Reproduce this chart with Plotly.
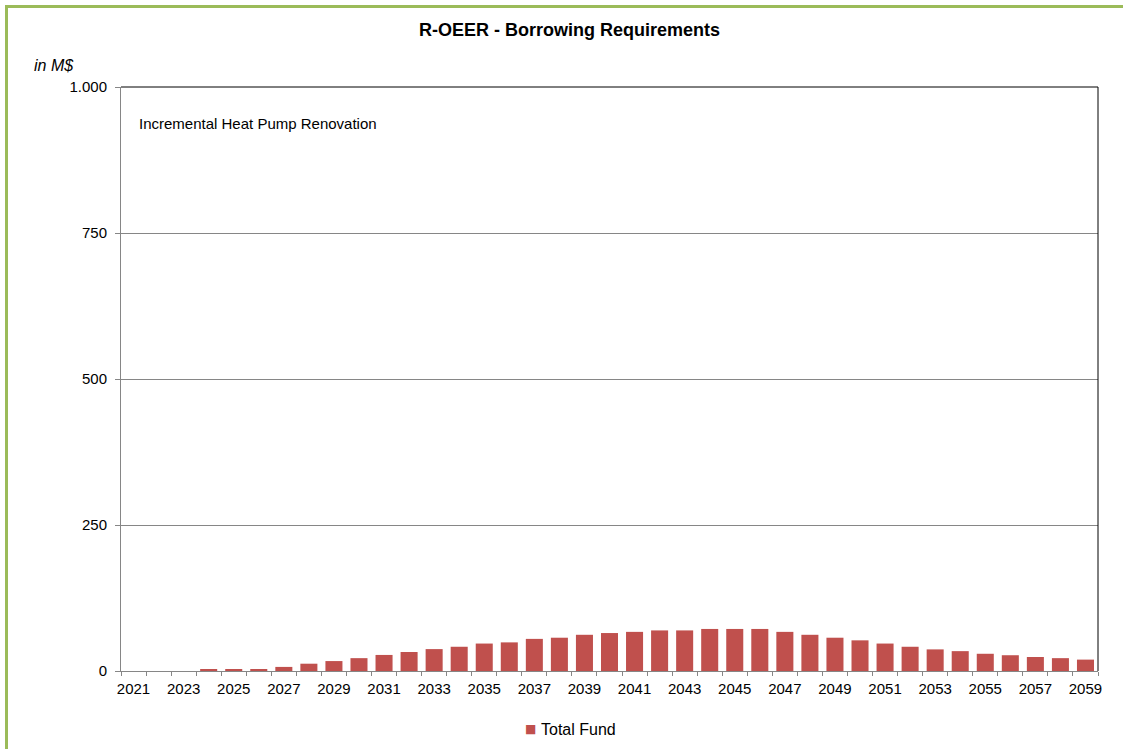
import plotly.graph_objects as go

years = list(range(2021, 2060))
total_fund = [0, 0, 0, 2, 2, 2, 7, 12.5, 17, 22, 27.5, 32.5, 37.5,
              41.5, 47, 49, 55, 57, 62, 65, 67, 69.5, 69.5, 72, 72, 72,
              67, 62, 57, 52.5, 47, 41.5, 37, 34, 29.5, 27, 24, 22, 19.5]
y_ticks = [0, 250, 500, 750, 1000]
y_tick_labels = ["0", "250", "500", "750", "1.000"]
x_tick_years = list(range(2021, 2060, 2))
series_name = "Total Fund"
bar_color = "#C0504D"

FONT = "Liberation Sans, Arial, sans-serif"
W, H = 1123, 749
ml, mr, mt, mb = 121, 25, 87, 78
pw, ph = W - ml - mr, H - mt - mb

def px_to_paper_x(px):
    return (px - ml) / pw

def px_to_paper_y(py):
    return (H - mb - py) / ph

fig = go.Figure()
fig.add_trace(go.Bar(
    x=years, y=total_fund, name=series_name,
    marker=dict(color=bar_color, line=dict(width=0)),
    showlegend=False,
))

fig.update_layout(
    width=W, height=H,
    margin=dict(l=ml, r=mr, t=mt, b=mb, autoexpand=False),
    paper_bgcolor="white", plot_bgcolor="white",
    font=dict(family=FONT, size=15, color="black"),
    bargap=0.32,
    xaxis=dict(
        range=[2020.5, 2059.5],
        tickvals=x_tick_years, ticktext=[str(y) for y in x_tick_years],
        ticks="outside", ticklen=4, tickcolor="rgba(0,0,0,0)",
        showgrid=False, zeroline=False,
        showline=True, linecolor="#868686", linewidth=1,
        tickfont=dict(size=15, family=FONT),
        ticklabelstandoff=0,
        minor=dict(ticks="outside", tick0=2020.5, dtick=1, ticklen=4, tickcolor="#868686", showgrid=False),
    ),
    yaxis=dict(
        range=[0, 1000],
        tickvals=y_ticks, ticktext=y_tick_labels,
        ticks="outside", ticklen=5, tickcolor="#868686",
        ticklabelstandoff=5,
        showgrid=True, gridcolor="#868686", gridwidth=1,
        zeroline=False,
        showline=True, linecolor="#868686", linewidth=1,
        tickfont=dict(size=15, family=FONT),
    ),
    shapes=[
        dict(type="line", xref="paper", yref="paper", x0=0, x1=1, y0=1, y1=1,
             line=dict(color="black", width=1)),
        dict(type="line", xref="paper", yref="paper", x0=1, x1=1, y0=0, y1=1,
             line=dict(color="black", width=1)),
        dict(type="rect", xref="paper", yref="paper",
             x0=px_to_paper_x(6.5), x1=px_to_paper_x(1140),
             y0=px_to_paper_y(770), y1=px_to_paper_y(6.5),
             line=dict(color="#9BBB59", width=3), fillcolor="rgba(0,0,0,0)", layer="above"),
    ],
    annotations=[
        dict(text="<b>R-OEER - Borrowing Requirements</b>", xref="paper", yref="paper",
             x=px_to_paper_x(569), y=px_to_paper_y(30), xanchor="center", yanchor="middle",
             showarrow=False, font=dict(size=18, family=FONT)),
        dict(text="<i>in M$</i>", xref="paper", yref="paper",
             x=px_to_paper_x(32), y=px_to_paper_y(66), xanchor="left", yanchor="middle",
             showarrow=False, font=dict(size=16, family=FONT)),
        dict(text="Incremental Heat Pump Renovation", xref="paper", yref="paper",
             x=px_to_paper_x(137), y=px_to_paper_y(124), xanchor="left", yanchor="middle",
             showarrow=False, font=dict(size=15, family=FONT)),
        dict(text="■", xref="paper", yref="paper",
             x=px_to_paper_x(538), y=px_to_paper_y(729), xanchor="right", yanchor="middle",
             showarrow=False, font=dict(size=12, family="DejaVu Sans", color=bar_color)),
        dict(text=series_name, xref="paper", yref="paper",
             x=px_to_paper_x(539), y=px_to_paper_y(729), xanchor="left", yanchor="middle",
             showarrow=False, font=dict(size=16, family=FONT)),
    ],
)

fig.write_html("out.html")
